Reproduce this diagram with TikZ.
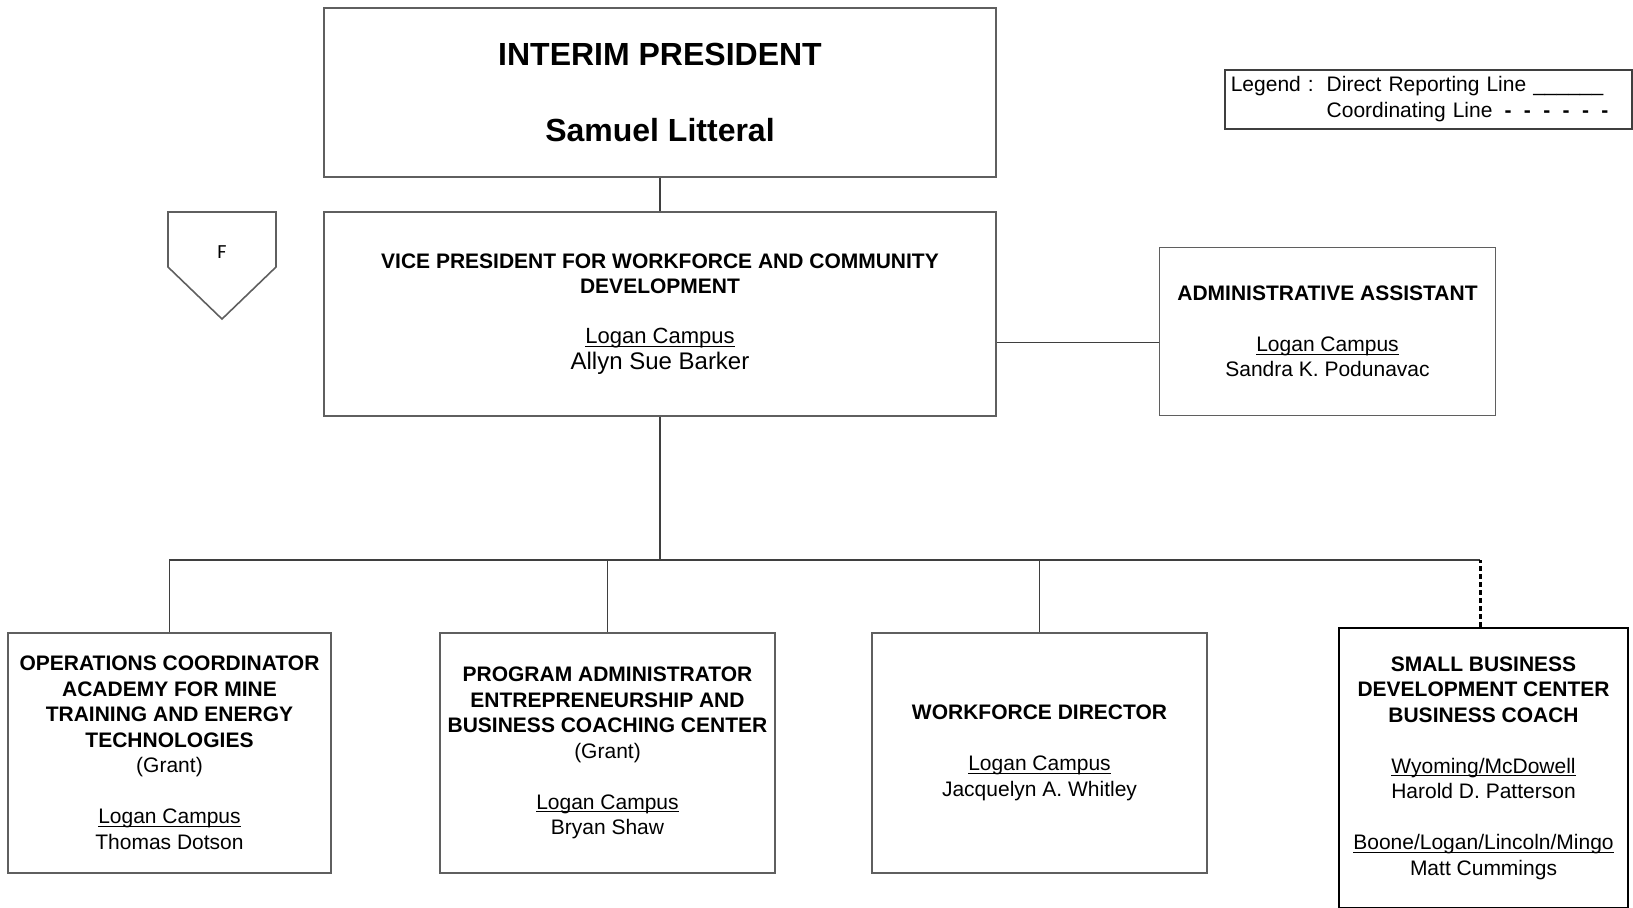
\documentclass[tikz,border=0pt]{standalone}
\usepackage{fontspec}
\setmainfont{Liberation Sans}
\newfontfamily\carlito{Carlito}
\usepackage{xcolor}
\definecolor{boxgray}{HTML}{5F5F5F}
\definecolor{linegray}{HTML}{3F3F3F}
\newcommand{\undl}[1]{\setbox0\hbox{#1}\rlap{\rule[-1.6pt]{\wd0}{0.55pt}}\box0}

\begin{document}
\begin{tikzpicture}[
  x=0.5pt, y=-0.5pt,
  box/.style={draw=boxgray, line width=0.8pt, align=center, inner sep=0pt,
    font=\fontsize{10.5}{12.75}\selectfont},
  topbox/.style={box, minimum width=336pt},
  unitbox/.style={box, minimum width=167.5pt, minimum height=120pt},
  link/.style={draw=linegray, line width=0.7pt},
  coordlink/.style={draw=black, line width=1.5pt, dash pattern=on 2.6pt off 1.4pt}
]
  \useasboundingbox (0,0) rectangle (1633,907);
  \clip (0,0) rectangle (1633,907);

  % president and vice president
  \node[topbox, minimum height=84.5pt,
    font=\fontsize{16}{19.2}\selectfont\bfseries] (pres) at (660,92.5)
    {INTERIM PRESIDENT\\[19pt]Samuel Litteral};
  \node[topbox, minimum height=102pt] (vp) at (660,314)
    {\textbf{VICE PRESIDENT FOR WORKFORCE AND COMMUNITY}\\
     \textbf{DEVELOPMENT}\\[12.25pt]
     {\fontsize{11}{13}\selectfont\undl{Logan Campus}}\\
     {\fontsize{12}{14}\selectfont Allyn Sue Barker}};
  \node[box, minimum width=168pt, minimum height=84pt] (admin) at (1327.5,331.5)
    {\textbf{ADMINISTRATIVE ASSISTANT}\\[12.75pt]
     \undl{Logan Campus}\\Sandra K. Podunavac};

  % off-page mark
  \node[font=\carlito\fontsize{10}{12}\selectfont] (offpage) at (222,252) {F};
  \draw[draw=boxgray, line width=0.8pt] (168,212) -- (276,212) -- (276,267)
    -- (222,319) -- (168,267) -- cycle;

  % legend
  \node[box, draw=linegray, anchor=north west, minimum width=203.5pt,
    minimum height=29.5pt, text width=197.5pt, align=left, inner xsep=3pt]
    (legend) at (1224,69)
    {\begin{tabular}{@{}l@{\hspace{6.5pt}}l@{}}
      Legend : & Direct Reporting Line \_\_\_\_\_\_\\
               & Coordinating Line\hspace{6pt}\textbf{-}\hspace{6.2pt}\textbf{-}%
                 \hspace{6.2pt}\textbf{-}\hspace{6.2pt}\textbf{-}%
                 \hspace{6.2pt}\textbf{-}\hspace{6.2pt}\textbf{-}
     \end{tabular}};

  % units (bottom row)
  \node[unitbox, minimum width=161.5pt] (ops) at (169.5,753)
    {\textbf{OPERATIONS COORDINATOR}\\\textbf{ACADEMY FOR MINE}\\
     \textbf{TRAINING AND ENERGY}\\\textbf{TECHNOLOGIES}\\(Grant)\\[12.75pt]
     \undl{Logan Campus}\\Thomas Dotson};
  \node[unitbox] (prog) at (607.5,753)
    {\textbf{PROGRAM ADMINISTRATOR}\\\textbf{ENTREPRENEURSHIP AND}\\
     \textbf{BUSINESS COACHING CENTER}\\(Grant)\\[12.75pt]
     \undl{Logan Campus}\\Bryan Shaw};
  \node[unitbox] (wfd) at (1039.5,753)
    {\textbf{WORKFORCE DIRECTOR}\\[12.75pt]
     \undl{Logan Campus}\\Jacquelyn A. Whitley};
  \node[box, draw=black, line width=1.1pt, minimum width=144.5pt,
    minimum height=140pt] (sbdc) at (1483.5,768)
    {\textbf{SMALL BUSINESS}\\\textbf{DEVELOPMENT CENTER}\\
     \textbf{BUSINESS COACH}\\[12.75pt]
     \undl{Wyoming/McDowell}\\Harold D. Patterson\\[12.75pt]
     \undl{Boone/Logan/Lincoln/Mingo}\\Matt Cummings};

  % reporting lines
  \coordinate (bus) at (660,560);
  \coordinate (ajoin) at ([yshift=-5.5pt]admin.west);
  \coordinate (sjoin) at ([xshift=-1.75pt]sbdc.north);
  \draw[link] (pres) -- (vp);
  \draw[link] (ajoin) -- (ajoin -| vp.east);
  \draw[link] (vp) -- (bus);
  \draw[link] (ops) |- (sjoin |- bus);
  \draw[link] (prog) -- (prog |- bus);
  \draw[link] (wfd) -- (wfd |- bus);
  \draw[coordlink] (sjoin) -- (sjoin |- bus);
\end{tikzpicture}
\end{document}
